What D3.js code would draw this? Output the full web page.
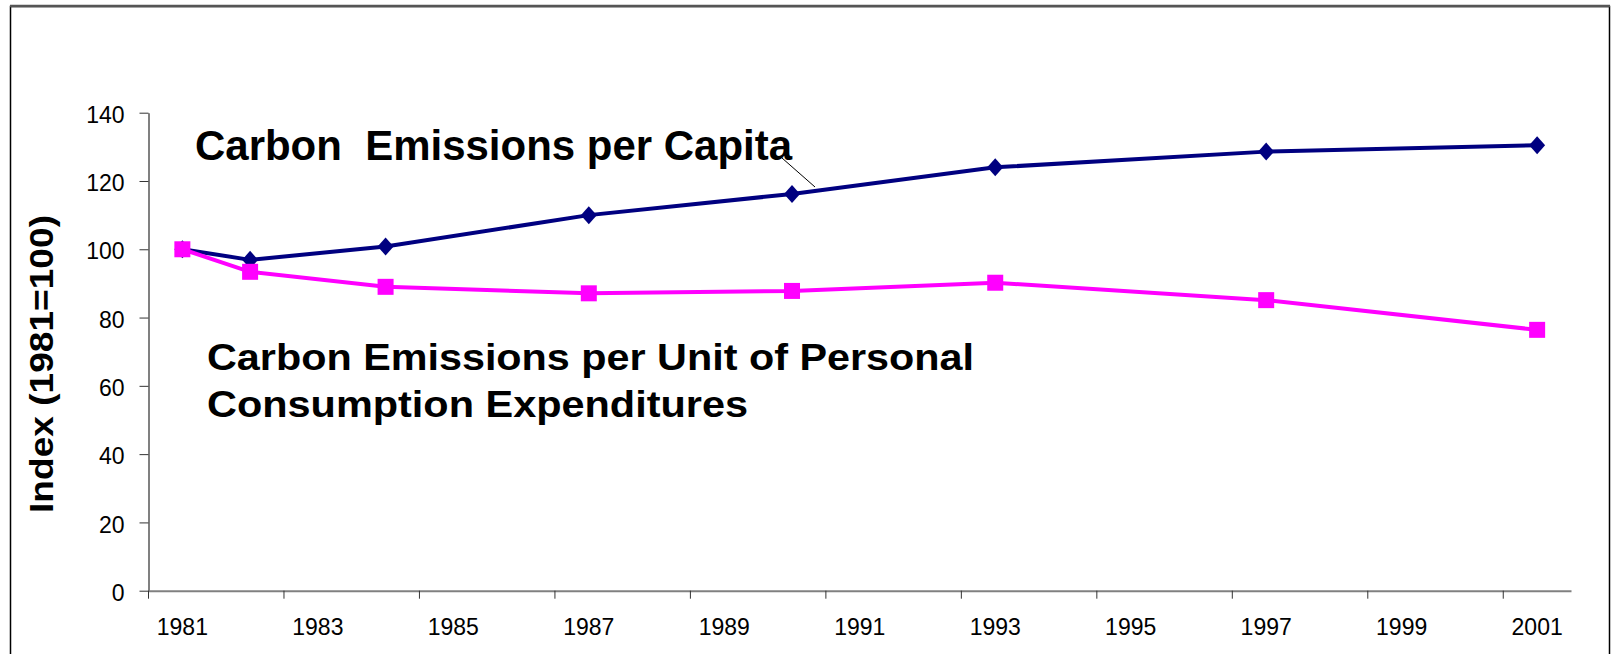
<!DOCTYPE html>
<html>
<head>
<meta charset="utf-8">
<script src="https://cdn.jsdelivr.net/npm/d3@7/dist/d3.min.js"></script>
<style>
  html, body { margin: 0; padding: 0; background: #fff; }
  svg { display: block; font-family: "Liberation Sans", Arial, sans-serif; }
</style>
</head>
<body>
<svg id="chart" width="1613" height="654"></svg>
<script>
// data
const years = d3.range(1981, 2002);              // category axis 1981..2001
const labelYears = d3.range(1981, 2002, 2);       // every other year labelled
const surveyYears = [1981, 1982, 1984, 1987, 1990, 1993, 1997, 2001];
const perCapita = [100, 96.9, 100.8, 110.0, 116.2, 124.0, 128.6, 130.5];
const perPCE = [100, 93.4, 89.0, 87.1, 87.8, 90.2, 85.1, 76.4];
const yTicks = [0, 20, 40, 60, 80, 100, 120, 140];

const svg = d3.select('#chart');

// frame
svg.append('rect')
    .attr('x', 10.5).attr('y', 6.5).attr('width', 1599).attr('height', 700)
    .attr('fill', 'none').attr('stroke', '#000').attr('stroke-width', 1.5);
svg.append('line')
    .attr('x1', 10).attr('x2', 1610).attr('y1', 6).attr('y2', 6)
    .attr('stroke', '#555').attr('stroke-width', 2.5);

let x = d3.scaleBand().domain(years).range([148.5, 1571]).padding(0);
let y = d3.scaleLinear().domain([0, 140]).range([590.7, 112.7]);
let bw = x.bandwidth();

// y axis
let gy = svg.append('g').attr('transform', 'translate(148.5,0)')
    .call(d3.axisLeft(y).tickValues(yTicks).tickSize(9).tickSizeOuter(0).tickPadding(15));
gy.select('.domain').attr('stroke', '#808080').attr('stroke-width', 2);
gy.selectAll('.tick line').attr('stroke', '#333').attr('stroke-width', 1);
gy.selectAll('.tick text')
    .attr('fill', '#000').attr('font-size', 23).attr('dy', '0.42em')
    .attr('font-family', '"Liberation Sans", Arial, sans-serif');

// x axis, ticks on category boundaries, labels in the middle
let gx = svg.append('g').attr('transform', 'translate(0,590.7)')
    .call(d3.axisBottom(x).tickValues(labelYears).tickSize(8).tickSizeOuter(0).tickPadding(20));
gx.select('.domain').attr('stroke', '#808080').attr('stroke-width', 2);
gx.selectAll('.tick line').attr('stroke', '#333').attr('stroke-width', 1)
    .attr('x1', -bw / 2).attr('x2', -bw / 2);
gx.selectAll('.tick text')
    .attr('fill', '#000').attr('font-size', 23)
    .attr('font-family', '"Liberation Sans", Arial, sans-serif');

// y axis title
svg.append('text')
    .attr('transform', 'translate(53,364) rotate(-90)')
    .attr('text-anchor', 'middle')
    .attr('font-size', 34).attr('font-weight', 'bold')
    .attr('textLength', 298).attr('lengthAdjust', 'spacingAndGlyphs')
    .text('Index (1981=100)');

let cx = yr => x(yr) + bw / 2;
let line = d3.line().x(d => cx(d[0])).y(d => y(d[1]));

let blue = surveyYears.map((yr, i) => [yr, perCapita[i]]);
let pink = surveyYears.map((yr, i) => [yr, perPCE[i]]);

// per capita series (navy, diamonds)
svg.append('path').datum(blue)
    .attr('d', line).attr('fill', 'none')
    .attr('stroke', '#000080').attr('stroke-width', 4).attr('stroke-linejoin', 'round');
svg.selectAll('.diamond').data(blue).enter().append('path')
    .attr('class', 'diamond')
    .attr('transform', d => 'translate(' + cx(d[0]) + ',' + y(d[1]) + ')')
    .attr('d', 'M0,-9L8,0L0,9L-8,0Z')
    .attr('fill', '#000080');

// per unit of PCE series (magenta, squares)
svg.append('path').datum(pink)
    .attr('d', line).attr('fill', 'none')
    .attr('stroke', '#ff00ff').attr('stroke-width', 4).attr('stroke-linejoin', 'round');
svg.selectAll('.square').data(pink).enter().append('rect')
    .attr('class', 'square')
    .attr('x', d => cx(d[0]) - 8).attr('y', d => y(d[1]) - 8)
    .attr('width', 16).attr('height', 16)
    .attr('fill', '#ff00ff');

// labels
svg.append('text')
    .attr('x', 195).attr('y', 160)
    .attr('font-size', 42).attr('font-weight', 'bold')
    .attr('textLength', 597).attr('lengthAdjust', 'spacingAndGlyphs')
    .style('white-space', 'pre')
    .text('Carbon  Emissions per Capita');
svg.append('line')
    .attr('x1', 782).attr('y1', 158).attr('x2', 815).attr('y2', 187)
    .attr('stroke', '#000').attr('stroke-width', 1);

svg.append('text')
    .attr('x', 207).attr('y', 370)
    .attr('font-size', 36).attr('font-weight', 'bold')
    .attr('textLength', 767).attr('lengthAdjust', 'spacingAndGlyphs')
    .text('Carbon Emissions per Unit of Personal');
svg.append('text')
    .attr('x', 207).attr('y', 417)
    .attr('font-size', 36).attr('font-weight', 'bold')
    .attr('textLength', 541).attr('lengthAdjust', 'spacingAndGlyphs')
    .text('Consumption Expenditures');
</script>
</body>
</html>
